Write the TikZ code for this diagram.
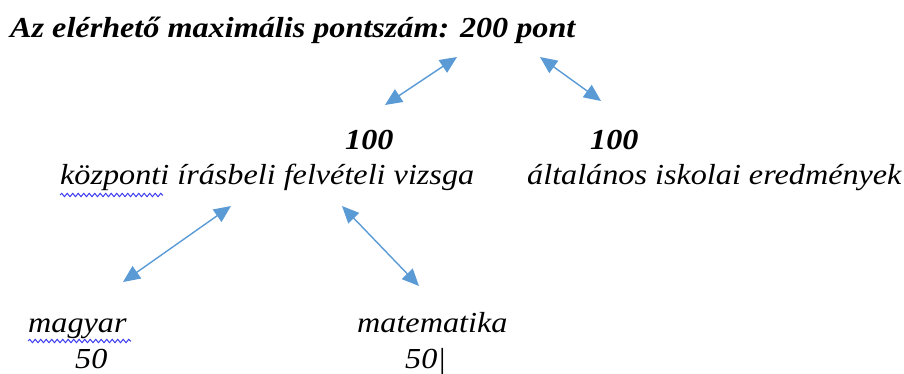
\documentclass[tikz,border=0pt]{standalone}
\usepackage{fontspec}
\usepackage{graphicx}
\setmainfont{Liberation Serif}
\usetikzlibrary{arrows.meta,decorations.pathmorphing}
\definecolor{arrowblue}{RGB}{91,155,213}
\definecolor{squiggle}{RGB}{60,60,240}
\newcommand{\widetext}[1]{\scalebox{1.11}[1]{#1}}
\tikzset{
  txt/.style={inner sep=0pt, anchor=base west, font=\fontsize{29}{33}\selectfont\itshape},
  btxt/.style={txt, font=\fontsize{29}{33}\selectfont\bfseries\itshape},
  dblarrow/.style={arrowblue, line width=1.4pt, {Triangle[length=17pt,width=15pt]}-{Triangle[length=17pt,width=15pt]}},
  wavy/.style={squiggle, line width=1pt, decorate, decoration={snake, amplitude=1.7pt, segment length=5.5pt}}
}
\begin{document}
\begin{tikzpicture}[x=1pt,y=-1pt]
\useasboundingbox (0,0) rectangle (904,374);
\node[btxt] (title) at (10,38) {\widetext{Az elérhető maximális pontszám: 200 pont}};
\node[btxt] (h1) at (345,150) {\widetext{100}};
\node[btxt] (h2) at (590,150) {\widetext{100}};
\node[txt] (kozp) at (60,185) {\widetext{központi írásbeli felvételi vizsga}};
\node[txt] (alt) at (527,185) {\widetext{általános iskolai eredmények}};
\node[txt] (magyar) at (28,332) {\widetext{magyar}};
\node[txt] (m50) at (75,368) {\widetext{50}};
\node[txt] (mat) at (357,332) {\widetext{matematika}};
\node[txt] (mat50) at (405,368) {\widetext{50|}};
\coordinate (a1s) at (457,57);
\coordinate (a1e) at (385,105);
\coordinate (a2s) at (540,57);
\coordinate (a2e) at (601,101);
\coordinate (a3s) at (231,206);
\coordinate (a3e) at (123,282);
\coordinate (a4s) at (342,206);
\coordinate (a4e) at (419,286);
\draw[dblarrow] (a1s) -- (a1e);
\draw[dblarrow] (a2s) -- (a2e);
\draw[dblarrow] (a3s) -- (a3e);
\draw[dblarrow] (a4s) -- (a4e);
\coordinate (w1s) at (60,195);
\coordinate (w1e) at (163,195);
\coordinate (w2s) at (28,341);
\coordinate (w2e) at (131,341);
\draw[wavy] (w1s) -- (w1e);
\draw[wavy] (w2s) -- (w2e);
\end{tikzpicture}
\end{document}
